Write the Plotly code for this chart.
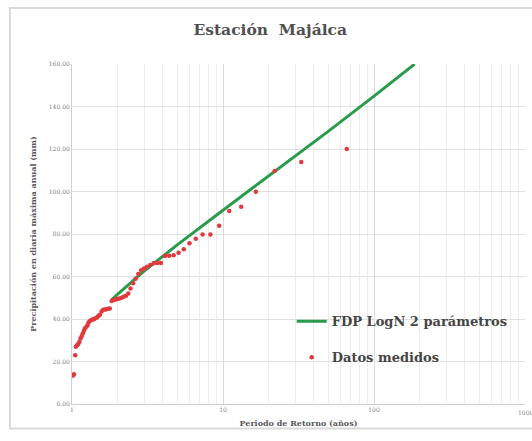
import plotly.graph_objects as go

# Measured data (return period in years, precipitation in mm)
periodo = [66.0, 33.0, 22.0, 16.5, 13.2, 11.0, 9.43, 8.25, 7.33, 6.6, 6.0, 5.5, 5.08,
           4.71, 4.4, 4.125, 3.88, 3.67, 3.47, 3.3, 3.14, 3.0, 2.87, 2.75, 2.64, 2.54,
           2.44, 2.36, 2.28, 2.2, 2.13, 2.06, 2.0, 1.94, 1.89, 1.83, 1.78, 1.74, 1.69,
           1.65, 1.61, 1.57, 1.53, 1.5, 1.47, 1.43, 1.40, 1.375, 1.35, 1.32, 1.29,
           1.27, 1.25, 1.22, 1.2, 1.18, 1.16, 1.14, 1.12, 1.1, 1.08, 1.06, 1.05,
           1.03, 1.015]
precip = [120.0, 113.9, 109.6, 99.9, 92.8, 90.8, 83.9, 79.8, 79.8, 77.8, 75.6, 72.8,
          71.2, 70.0, 69.8, 69.6, 66.4, 66.3, 66.2, 65.4, 64.6, 63.8, 63.0, 61.2, 59.0,
          56.8, 54.4, 52.0, 51.0, 50.5, 50.0, 49.7, 49.4, 49.2, 49.0, 48.5, 45.0, 44.8,
          44.6, 44.5, 44.3, 43.5, 42.0, 41.5, 40.8, 40.3, 40.0, 39.8, 39.6, 39.2, 38.5,
          37.2, 36.5, 35.6, 34.5, 33.3, 32.0, 30.9, 29.3, 28.2, 27.6, 27.0, 23.0, 14.0,
          13.4]

# Fitted LogN 2-parameter curve
periodo_fdp = [1.83, 2.0, 3.0, 5.0, 10.0, 20.0, 50.0, 100.0, 186.0]
precip_fdp = [49.0, 51.6, 62.5, 75.0, 91.2, 107.1, 128.4, 144.9, 160.0]

x_ticks = [1, 10, 100]
x_tick_labels = ["1", "10", "100"]
y_ticks = [0, 20, 40, 60, 80, 100, 120, 140, 160]

FONT = "DejaVu Serif"

fig = go.Figure()
fig.add_trace(go.Scatter(
    x=periodo_fdp, y=precip_fdp, mode="lines", name="<b>FDP LogN 2 parámetros</b>",
    legendgroup="a", line=dict(color="#2a9a4c", width=3)))
fig.add_trace(go.Scatter(
    x=periodo, y=precip, mode="markers", name="<b>Datos medidos</b>",
    legendgroup="b", marker=dict(color="#e0393e", size=4.5)))

fig.update_layout(
    width=532, height=441,
    margin=dict(l=72, r=7, t=64, b=37),
    paper_bgcolor="white", plot_bgcolor="white",
    font=dict(family=FONT, color="#595959"),
    title=dict(text="<b>Estación  Majálca</b>", x=0.508, xanchor="center",
               y=0.932, yanchor="middle",
               font=dict(family=FONT, size=15.5, color="#505050")),
    legend=dict(x=0.485, y=0.19, xanchor="left", yanchor="middle",
                bgcolor="rgba(0,0,0,0)", itemwidth=30, tracegroupgap=16,
                font=dict(family=FONT, size=13, color="#454545")),
    shapes=[dict(type="rect", xref="paper", yref="paper", x0=-0.137, x1=1.05,
                 y0=-0.072, y1=1.165, line=dict(color="#d9d9d9", width=2),
                 fillcolor="rgba(0,0,0,0)", layer="below")],
    annotations=[dict(text="1000", x=3, y=0, xref="x", yref="paper",
                      xanchor="center", yanchor="top", yshift=-3, showarrow=False,
                      font=dict(family=FONT, size=6, color="#808080"))],
)
fig.update_xaxes(
    type="log", range=[0, 3], tickvals=x_ticks, ticktext=x_tick_labels,
    showgrid=True, gridcolor="#dcdcdc", gridwidth=1,
    minor=dict(dtick="D1", showgrid=True, gridcolor="#ececec", gridwidth=1),
    showline=True, linecolor="#d0d0d0", linewidth=1, mirror=False,
    ticks="", tickfont=dict(size=6, color="#808080"),
    title=dict(text="<b>Periodo de Retorno (años)</b>", standoff=8,
               font=dict(family=FONT, size=8, color="#595959")),
    zeroline=False)
fig.update_yaxes(
    range=[0, 160], tickvals=y_ticks, tickformat=".2f",
    showgrid=True, gridcolor="#e0e0e0", gridwidth=1,
    showline=True, linecolor="#d0d0d0", linewidth=1,
    ticks="", tickfont=dict(size=6, color="#808080"),
    title=dict(text="<b>Precipitación en diaria máxima anual (mm)</b>", standoff=10,
               font=dict(family=FONT, size=8, color="#595959")),
    zeroline=False)

fig.write_html("out.html")
